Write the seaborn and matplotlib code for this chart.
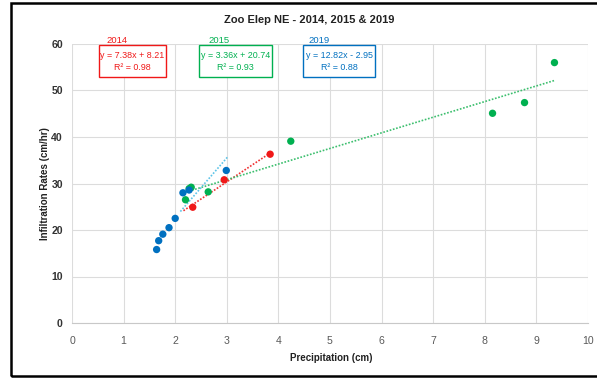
import numpy as np
import pandas as pd
import matplotlib
matplotlib.use("Agg")
import matplotlib.pyplot as plt
from matplotlib.patches import Rectangle
import seaborn as sns

# ---- data ----
years = ["2014", "2015", "2019"]
precip_2014 = [2.34, 2.95, 3.84]
infil_2014 = [24.9, 30.8, 36.3]
precip_2015 = [2.20, 2.27, 2.31, 2.64, 4.24, 8.15, 8.77, 9.35]
infil_2015 = [26.5, 28.9, 29.2, 28.2, 39.1, 45.1, 47.4, 56.0]
precip_2019 = [1.64, 1.68, 1.76, 1.88, 2.00, 2.15, 2.27, 2.99]
infil_2019 = [15.8, 17.7, 19.1, 20.5, 22.5, 28.0, 28.6, 32.8]
slopes = [7.38, 3.36, 12.82]
intercepts = [8.21, 20.74, -2.95]
r2 = [0.98, 0.93, 0.88]
trend_start = [2.16, 2.20, 2.10]
trend_end = [3.84, 9.35, 3.01]
equations = ["y = 7.38x + 8.21", "y = 3.36x + 20.74", "y = 12.82x - 2.95"]
x_ticks = list(range(0, 11))
y_ticks = [0, 10, 20, 30, 40, 50, 60]

colors = {"2014": "#f01818", "2015": "#00b050", "2019": "#0070c0"}
trend_colors = {"2014": "#f03030", "2015": "#3cbf6e", "2019": "#5cc4e8"}

df = pd.DataFrame({
    "Precipitation": precip_2014 + precip_2015 + precip_2019,
    "Infiltration": infil_2014 + infil_2015 + infil_2019,
    "Year": ["2014"] * len(precip_2014) + ["2015"] * len(precip_2015) + ["2019"] * len(precip_2019),
})

sns.set_theme(style="white")
plt.rcParams["font.family"] = ["Liberation Sans", "DejaVu Sans"]

W, H = 597, 379
fig = plt.figure(figsize=(W / 100, H / 100), dpi=100)
ax = fig.add_axes([72 / W, 1 - 323 / H, (588 - 72) / W, (323 - 44) / H])

# trend lines
for i, yr in enumerate(years):
    xs = np.linspace(trend_start[i], trend_end[i], 50)
    ys = slopes[i] * xs + intercepts[i]
    ax.plot(xs, ys, linestyle=(0, (1, 1)), color=trend_colors[yr], lw=1.2, zorder=2)

sns.scatterplot(data=df, x="Precipitation", y="Infiltration", hue="Year",
                palette=colors, s=28, edgecolor="none", legend=False, ax=ax, zorder=3)

ax.set_xlim(0, 10)
ax.set_ylim(0, 60)
ax.set_xticks(x_ticks)
ax.set_yticks(y_ticks)
ax.grid(True, color="#dcdcdc", lw=0.8)
for s in ["top", "right", "left"]:
    ax.spines[s].set_visible(False)
ax.spines["bottom"].set_color("#c8c8c8")
ax.spines["bottom"].set_linewidth(0.8)
ax.tick_params(axis="x", colors="#595959", labelsize=7.6, length=0, pad=9)
ax.tick_params(axis="y", labelsize=7.6, length=0, pad=6.5)
for lab in ax.get_yticklabels():
    lab.set_fontweight("bold")
    lab.set_color("#333333")
ax.set_xlabel("Precipitation (cm)", fontsize=7.0, fontweight="bold", color="#222222")
ax.set_ylabel("Infiltration Rates (cm/hr)", fontsize=7.0, fontweight="bold", color="#222222")
ax.xaxis.set_label_coords((331 - 72) / 516, (323 - 358) / 279)
ax.yaxis.set_label_coords((45 - 72) / 516, 0.5)
ax.xaxis.label.set_va("center")
ax.yaxis.label.set_va("center")

fig.text(309 / W, 1 - 20 / H, "Zoo Elep NE - 2014, 2015 & 2019",
         ha="center", va="center", fontsize=8.0, fontweight="bold", color="#222222")

# equation boxes
box_left = [0.52, 2.46, 4.48]
box_w = [1.30, 1.42, 1.40]
label_x = [0.66, 2.64, 4.59]
for i, yr in enumerate(years):
    ax.add_patch(Rectangle((box_left[i], 52.9), box_w[i], 6.9, fc="white",
                           ec=colors[yr], lw=1.0, zorder=5, clip_on=False))
    cx = box_left[i] + box_w[i] / 2
    ax.text(cx, 57.6, equations[i], ha="center", va="center", fontsize=6.4,
            color=colors[yr], zorder=6)
    ax.text(cx, 54.9, "R² = %.2f" % r2[i], ha="center", va="center", fontsize=6.4,
            color=colors[yr], zorder=6)
    ax.text(label_x[i], 60.7, yr, ha="left", va="center", fontsize=6.8, color=colors[yr],
            clip_on=False, zorder=6)

# outer black border (left, top, bottom)
fig.patches.append(Rectangle((11 / W, 3 / H), 1.2, 1 - 6 / H, transform=fig.transFigure,
                             fill=False, ec="black", lw=1.8))

fig.savefig("out.png", dpi=100)
